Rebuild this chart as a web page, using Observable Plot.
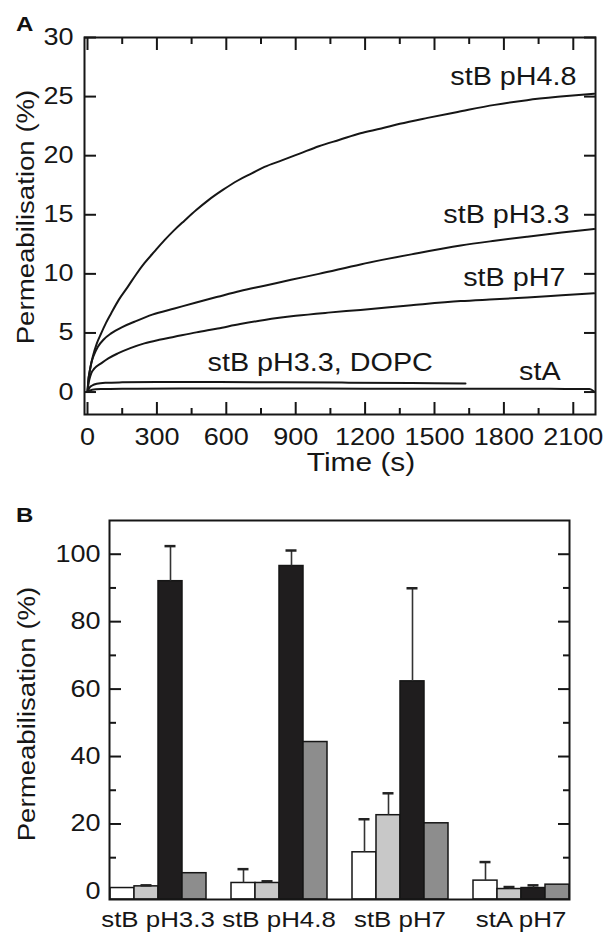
<!DOCTYPE html>
<html><head><meta charset="utf-8">
<script src="https://cdn.jsdelivr.net/npm/d3@7"></script>
<script src="https://cdn.jsdelivr.net/npm/@observablehq/plot@0.6"></script>
<style>
html,body{margin:0;padding:0;background:#fff;}
#fig{position:relative;width:603px;height:933px;font-family:Arial,"Liberation Sans",sans-serif;overflow:hidden;}
.panel{position:absolute;left:0;}
.tag{position:absolute;font-weight:bold;font-size:20px;line-height:1;color:#111;transform:scaleX(1.2);transform-origin:left top;}
</style></head>
<body><div id="fig">
<div id="panelA" class="panel" style="top:0"></div>
<div id="panelB" class="panel" style="top:480px"></div>
<div class="tag" style="left:16px;top:14px">A</div>
<div class="tag" style="left:16px;top:505px">B</div>
</div>
<script>
// ---------- Panel A: kinetics (time in s, permeabilisation in %) ----------
const t48 = [0, 5, 12, 23, 40, 59, 80, 102, 135, 174, 210, 246, 290, 333, 375, 419, 470, 520, 585, 650, 710, 765, 840, 920, 1000, 1090, 1180, 1270, 1350, 1470, 1600, 1760, 1900, 2045, 2190];
const v48 = [0, 1.2, 2.0, 3.0, 4.1, 4.96, 5.85, 6.65, 7.8, 8.9, 9.95, 10.9, 11.9, 12.85, 13.7, 14.5, 15.4, 16.2, 17.1, 17.9, 18.5, 19.05, 19.6, 20.2, 20.8, 21.35, 21.9, 22.3, 22.7, 23.2, 23.7, 24.3, 24.7, 25.0, 25.25];
const t33 = [0, 4, 8, 16, 28, 45, 70, 102, 150, 203, 280, 376, 470, 563, 660, 765, 880, 1000, 1180, 1400, 1613, 1760, 1901, 2050, 2190];
const v33 = [0, 1.1, 1.6, 2.43, 3.15, 3.84, 4.45, 4.96, 5.5, 5.95, 6.55, 7.07, 7.58, 8.06, 8.55, 9.0, 9.5, 10.0, 10.8, 11.65, 12.4, 12.8, 13.15, 13.5, 13.8];
const t7 = [0, 4, 8, 16, 30, 59, 90, 131, 185, 246, 310, 376, 470, 563, 660, 765, 900, 1040, 1180, 1400, 1613, 1760, 1901, 2050, 2190];
const v7 = [0, 0.7, 1.05, 1.58, 2.0, 2.43, 2.85, 3.27, 3.72, 4.12, 4.42, 4.68, 5.05, 5.38, 5.75, 6.1, 6.45, 6.72, 6.95, 7.35, 7.7, 7.85, 8.0, 8.18, 8.35];
const tDOPC = [0, 8, 20, 40, 80, 150, 300, 500, 800, 1100, 1400, 1634];
const vDOPC = [0, 0.35, 0.55, 0.7, 0.78, 0.82, 0.85, 0.85, 0.83, 0.8, 0.76, 0.72];
const tStA = [0, 20, 60, 150, 400, 800, 1200, 1600, 2000, 2170, 2190];
const vStA = [0, 0.2, 0.25, 0.28, 0.3, 0.3, 0.28, 0.28, 0.27, 0.25, 0.05];

const curveLabels = ["stB pH4.8", "stB pH3.3", "stB pH7", "stB pH3.3, DOPC", "stA"];
const curveLabelTime = [2114, 2084, 2066, 519, 2045];
const curveLabelValue = [26.7, 15.0, 9.66, 2.46, 1.69];
const curveLabelAlign = ["end", "end", "end", "start", "end"];

const timeMajorTicks = [0, 300, 600, 900, 1200, 1500, 1800, 2100];
const timeMinorTicks = [150, 450, 750, 1050, 1350, 1650, 1950];
const permATicks = [0, 5, 10, 15, 20, 25, 30];

// ---------- Panel B: end-point permeabilisation ----------
const groups = ["stB pH3.3", "stB pH4.8", "stB pH7", "stA pH7"];
const conditions = ["c1", "c2", "c3", "c4"];
const c1Values = [1.0, 2.5, 11.6, 3.2];
const c2Values = [1.5, 2.5, 22.6, 0.7];
const c3Values = [92.0, 96.5, 62.3, 1.0];
const c4Values = [5.4, 44.3, 20.2, 2.0];
const c1Errors = [null, 4.1, 9.8, 5.5];
const c2Errors = [0.3, 0.5, 6.5, 0.6];
const c3Errors = [10.4, 4.6, 27.6, 0.8];
const c4Errors = [null, null, null, null];
const permBMajorTicks = [0, 20, 40, 60, 80, 100];
const permBMinorTicks = [10, 30, 50, 70, 90];

const barFills = ["#ffffff", "#c8c8c8", "#1f1d1e", "#8d8d8d"];
const ink = "#161616";
const fontStack = "Arial, 'Liberation Sans', sans-serif";
const textStretch = 1.15;

// ----- build tables -----
const seriesA = [
  ["stB pH4.8", t48, v48], ["stB pH3.3", t33, v33], ["stB pH7", t7, v7],
  ["DOPC", tDOPC, vDOPC], ["stA", tStA, vStA]
];
const lineRows = seriesA.flatMap(([name, ts, vs]) => ts.map((t, i) => ({series: name, t, v: vs[i]})));
const labelRows = curveLabels.map((text, i) => ({text, t: curveLabelTime[i], v: curveLabelValue[i], align: curveLabelAlign[i]}));

const valuesByCond = [c1Values, c2Values, c3Values, c4Values];
const errorsByCond = [c1Errors, c2Errors, c3Errors, c4Errors];
const barRows = groups.flatMap((g, gi) => conditions.map((c, ci) => ({
  group: g, cond: c, value: valuesByCond[ci][gi], err: errorsByCond[ci][gi]
})));
const errRows = barRows.filter(d => d.err != null);

const yMinA = -1.9, yMinB = -2.4;
const blank = () => "";

function stretchTexts(svg) {
  svg.querySelectorAll("text").forEach(el => {
    const tr = el.getAttribute("transform") || "";
    el.setAttribute("transform", (tr + ` scale(${textStretch},1)`).trim());
  });
  return svg;
}

const plotA = Plot.plot({
  width: 603, height: 480,
  marginLeft: 84, marginRight: 8, marginTop: 37, marginBottom: 66,
  style: {fontFamily: fontStack, fontSize: "23px", color: ink, background: "white", overflow: "visible"},
  x: {domain: [-13, 2196]},
  y: {domain: [yMinA, 30]},
  marks: [
    Plot.axisX(timeMajorTicks, {anchor: "bottom", tickSize: -12, tickPadding: 26, strokeWidth: 2, fontSize: 23.5, label: null, tickFormat: d => String(d)}),
    Plot.axisX(timeMinorTicks, {anchor: "bottom", tickSize: -6, tickFormat: blank, strokeWidth: 2, label: null}),
    Plot.axisX(timeMajorTicks, {anchor: "top", tickSize: -12, tickFormat: blank, strokeWidth: 2, label: null}),
    Plot.axisX(timeMinorTicks, {anchor: "top", tickSize: -6, tickFormat: blank, strokeWidth: 2, label: null}),
    Plot.axisY(permATicks, {anchor: "left", tickSize: -12, tickPadding: 23, strokeWidth: 2, fontSize: 23.5, label: null, tickFormat: d => String(d)}),
    Plot.axisY(permATicks, {anchor: "right", tickSize: -12, tickFormat: blank, strokeWidth: 2, label: null}),
    Plot.line(lineRows, {x: "t", y: "v", z: "series", stroke: ink, strokeWidth: 2, curve: "monotone-x"}),
    Plot.text(labelRows.filter(d => d.align === "end"), {x: "t", y: "v", text: "text", textAnchor: "end", lineAnchor: "middle", fill: ink, fontSize: 25}),
    Plot.text(labelRows.filter(d => d.align === "start"), {x: "t", y: "v", text: "text", textAnchor: "start", lineAnchor: "middle", fill: ink, fontSize: 25}),
    Plot.text(["Permeabilisation (%)"], {frameAnchor: "left", text: d => d, rotate: -90, textAnchor: "middle", lineAnchor: "middle", dx: -58, dy: -9, fill: ink, fontSize: 24}),
    Plot.text(["Time (s)"], {frameAnchor: "bottom", text: d => d, textAnchor: "middle", lineAnchor: "middle", dx: 21, dy: 48, fill: ink, fontSize: 26}),
    Plot.frame({stroke: ink, strokeWidth: 2})
  ]
});
document.getElementById("panelA").appendChild(stretchTexts(plotA));

const plotB = Plot.plot({
  width: 603, height: 453,
  marginLeft: 83, marginRight: 8, marginTop: 40, marginBottom: 34,
  style: {fontFamily: fontStack, fontSize: "23px", color: ink, background: "white", overflow: "visible"},
  fx: {domain: groups, paddingInner: 0.2, paddingOuter: 0.2, label: null},
  x: {domain: conditions, padding: 0, axis: null},
  y: {domain: [yMinB, 110]},
  color: {domain: conditions, range: barFills},
  marks: [
    Plot.axisFx({anchor: "bottom", tickSize: 0, tickPadding: 12, fontSize: 22.5, label: null}),
    Plot.axisY(permBMajorTicks, {anchor: "left", tickSize: -12, tickPadding: 21, strokeWidth: 2, fontSize: 23.5, label: null, tickFormat: d => String(d)}),
    Plot.axisY(permBMinorTicks, {anchor: "left", tickSize: -7, tickFormat: blank, strokeWidth: 2, label: null}),
    Plot.axisY(permBMajorTicks, {anchor: "right", tickSize: -12, tickFormat: blank, strokeWidth: 2, label: null}),
    Plot.axisY(permBMinorTicks, {anchor: "right", tickSize: -7, tickFormat: blank, strokeWidth: 2, label: null}),
    Plot.barY(barRows, {fx: "group", x: "cond", y1: yMinB, y2: "value", fill: "cond", stroke: ink, strokeWidth: 1.5}),
    Plot.ruleX(errRows, {fx: "group", x: "cond", y1: "value", y2: d => d.value + d.err, stroke: "#333", strokeWidth: 1.6}),
    Plot.tickY(errRows, {fx: "group", x: "cond", y: d => d.value + d.err, stroke: "#222", strokeWidth: 2.5, insetLeft: 6.5, insetRight: 6.5}),
    Plot.text(["Permeabilisation (%)"], {frameAnchor: "left", text: d => d, rotate: -90, textAnchor: "middle", lineAnchor: "middle", dx: -82, dy: 4, fill: ink, fontSize: 24, facet: "super"}),
    Plot.frame({stroke: ink, strokeWidth: 2, facet: "super"})
  ]
});
document.getElementById("panelB").appendChild(stretchTexts(plotB));
</script>
</body></html>
